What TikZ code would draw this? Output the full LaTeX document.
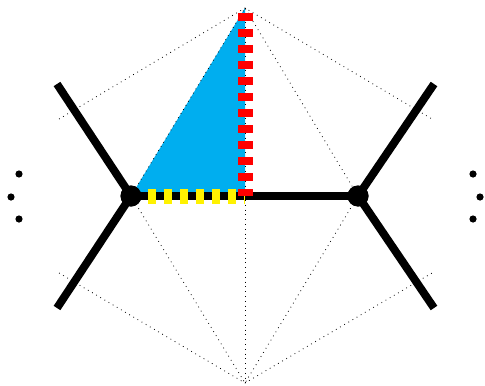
\documentclass[tikz,border=0pt]{standalone}
\usepackage{xcolor}
\usepackage{tikz}

\definecolor{cellblue}{RGB}{0,174,239}
\definecolor{pathred}{RGB}{255,0,0}
\definecolor{pathyellow}{RGB}{255,242,0}

\begin{document}
\begin{tikzpicture}[x=0.5pt, y=-0.5pt]
  \tikzset{edge/.style={line width=4pt},
    vertex/.style={circle, fill, inner sep=0pt, minimum size=10.5pt},
    more/.style={circle, fill, inner sep=0pt, minimum size=3.6pt},
    guide/.style={dotted, line width=0.4pt}}
  \useasboundingbox (0,0) rectangle (485,385);
  % polygon points
  \coordinate (top) at (245,8);
  \coordinate (bot) at (245,383);
  \coordinate (lu) at (59,119);
  \coordinate (ll) at (59,273);
  \coordinate (ru) at (432,119);
  \coordinate (rl) at (432,273);
  \coordinate (mid) at (245,196);
  % curve ends
  \coordinate (leftup) at (57,84);
  \coordinate (leftdown) at (57,308);
  \coordinate (rightup) at (434,84);
  \coordinate (rightdown) at (434,308);
  \coordinate (redstart) at (245,13);
  \coordinate (yellowstart) at (148,196);
  \node[vertex] (v1) at (131,196) {};
  \node[vertex] (v2) at (358,196) {};
  \fill[cellblue] (top) -- (v1.center) -- (mid) -- cycle;
  \draw[guide] (lu) -- (top) -- (ru);
  \draw[guide] (ll) -- (bot) -- (rl);
  \draw[guide] (top) -- (bot);
  \draw[guide] (v1.center) -- (top) -- (v2.center);
  \draw[guide] (v1.center) -- (bot) -- (v2.center);
  \draw[edge] (leftup) -- (v1.center) -- (leftdown);
  \draw[edge] (rightup) -- (v2.center) -- (rightdown);
  \draw[edge] (v1.center) -- (v2.center);
  \draw[pathyellow, line width=7.5pt, dash pattern=on 4pt off 4pt] (yellowstart) -- (mid);
  \draw[pathred, line width=7.5pt, dash pattern=on 4pt off 4pt] (redstart) -- (mid);
  \node[vertex] at (v1) {};
  \node[vertex] at (v2) {};
  \node[more] (l1) at (19,174) {};
  \node[more] (l2) at (11,197) {};
  \node[more] (l3) at (19,219) {};
  \node[more] (r1) at (473,174) {};
  \node[more] (r2) at (480,197) {};
  \node[more] (r3) at (473,219) {};
\end{tikzpicture}
\end{document}
